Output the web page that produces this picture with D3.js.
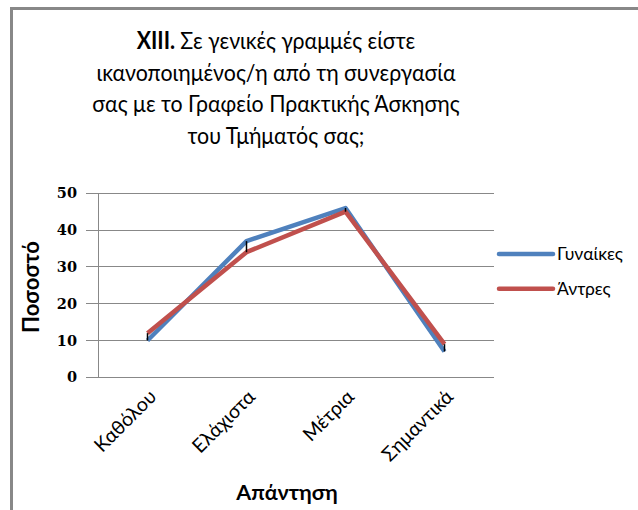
<!DOCTYPE html>
<html><head><meta charset="utf-8">
<script src="https://cdn.jsdelivr.net/npm/d3@7"></script>
<style>body{margin:0;background:#fff}svg{display:block}</style>
</head><body><svg id="c" width="638" height="510"></svg>
<script>
const categories = ["Καθόλου","Ελάχιστα","Μέτρια","Σημαντικά"];
const women = [10, 37, 46, 7];
const men = [12, 34, 45, 9];
const seriesNames = ["Γυναίκες","Άντρες"];
const yTicks = [0,10,20,30,40,50];
const titleLines = ["Σε γενικές γραμμές είστε","ικανοποιημένος/η από τη συνεργασία","σας με το Γραφείο Πρακτικής Άσκησης","του Τμήματός σας;"];

const svg = d3.select("#c");
const font = "Lato, 'Open Sans', sans-serif";
// frame
svg.append("path").attr("d","M11.5,510 V8.5 H638").attr("fill","none").attr("stroke","#888").attr("stroke-width",3);

const L=98, R=494, T=193.3, B=377.3;
const x = d3.scaleBand().domain(categories).range([L,R]);
const y = d3.scaleLinear().domain([0,50]).range([B,T]);

// title (narrow, tall glyphs)
const title = svg.append("g").attr("transform","translate(276,0) scale(0.89,1)")
  .attr("font-family",font).attr("font-size",24).attr("text-anchor","middle").attr("fill","#000");
titleLines.forEach((t,i)=>{
  const tx = title.append("text").attr("x",0).attr("y",49+i*31.7);
  if(i===0){ tx.append("tspan").attr("font-weight","bold").text("XIII. "); }
  tx.append("tspan").text(t);
});

// gridlines
svg.append("g").selectAll("line").data(yTicks).join("line")
  .attr("x1",86).attr("x2",R).attr("y1",d=>y(d)).attr("y2",d=>y(d))
  .attr("stroke","#888").attr("stroke-width",1).attr("shape-rendering","crispEdges");
svg.append("line").attr("x1",L).attr("x2",L).attr("y1",T).attr("y2",B)
  .attr("stroke","#888").attr("stroke-width",1).attr("shape-rendering","crispEdges");

// y tick labels
svg.append("g").selectAll("text").data(yTicks).join("text")
  .attr("x",77).attr("y",d=>y(d)+5).attr("text-anchor","end")
  .attr("font-family","'DejaVu Serif', serif").attr("font-weight","bold").attr("font-size",14.5)
  .text(d=>d);

// y title
svg.append("text").attr("transform","translate(39,287) rotate(-90)").attr("text-anchor","middle")
  .attr("font-family",font).attr("font-weight","bold").attr("font-size",22).text("Ποσοστό");

// x labels
svg.append("g").selectAll("text").data(categories).join("text")
  .attr("transform",d=>`translate(${x(d)+x.bandwidth()/2+10},${398}) rotate(-45)`)
  .attr("text-anchor","end").attr("font-family",font).attr("font-size",19.5).text(d=>d);

// x title
svg.append("text").attr("x",287).attr("y",500).attr("text-anchor","middle")
  .attr("font-family",font).attr("font-weight","bold").attr("font-size",21.5).text("Απάντηση");

const cx = d=>x(d)+x.bandwidth()/2;
const line = d3.line().x((d,i)=>cx(categories[i])).y(d=>y(d));
svg.append("path").datum(women).attr("d",line).attr("fill","none").attr("stroke","#4F81BD").attr("stroke-width",4.5).attr("stroke-linejoin","round");
svg.append("path").datum(men).attr("d",line).attr("fill","none").attr("stroke","#C0504D").attr("stroke-width",4.5).attr("stroke-linejoin","round");

// high-low lines
svg.append("g").selectAll("line").data(categories).join("line")
  .attr("x1",d=>cx(d)).attr("x2",d=>cx(d))
  .attr("y1",(d,i)=>y(women[i])).attr("y2",(d,i)=>y(men[i]))
  .attr("stroke","#000").attr("stroke-width",1.5);

// legend
const colors=["#4F81BD","#C0504D"];
const lg = svg.append("g");
seriesNames.forEach((n,i)=>{
  const ly = 254 + i*34.7;
  lg.append("line").attr("x1",499).attr("x2",553).attr("y1",ly).attr("y2",ly).attr("stroke",colors[i]).attr("stroke-width",4.5).attr("stroke-linecap","round");
  lg.append("text").attr("x",557).attr("y",ly+6).attr("font-family",font).attr("font-size",17.5).text(n);
});
</script></body></html>
